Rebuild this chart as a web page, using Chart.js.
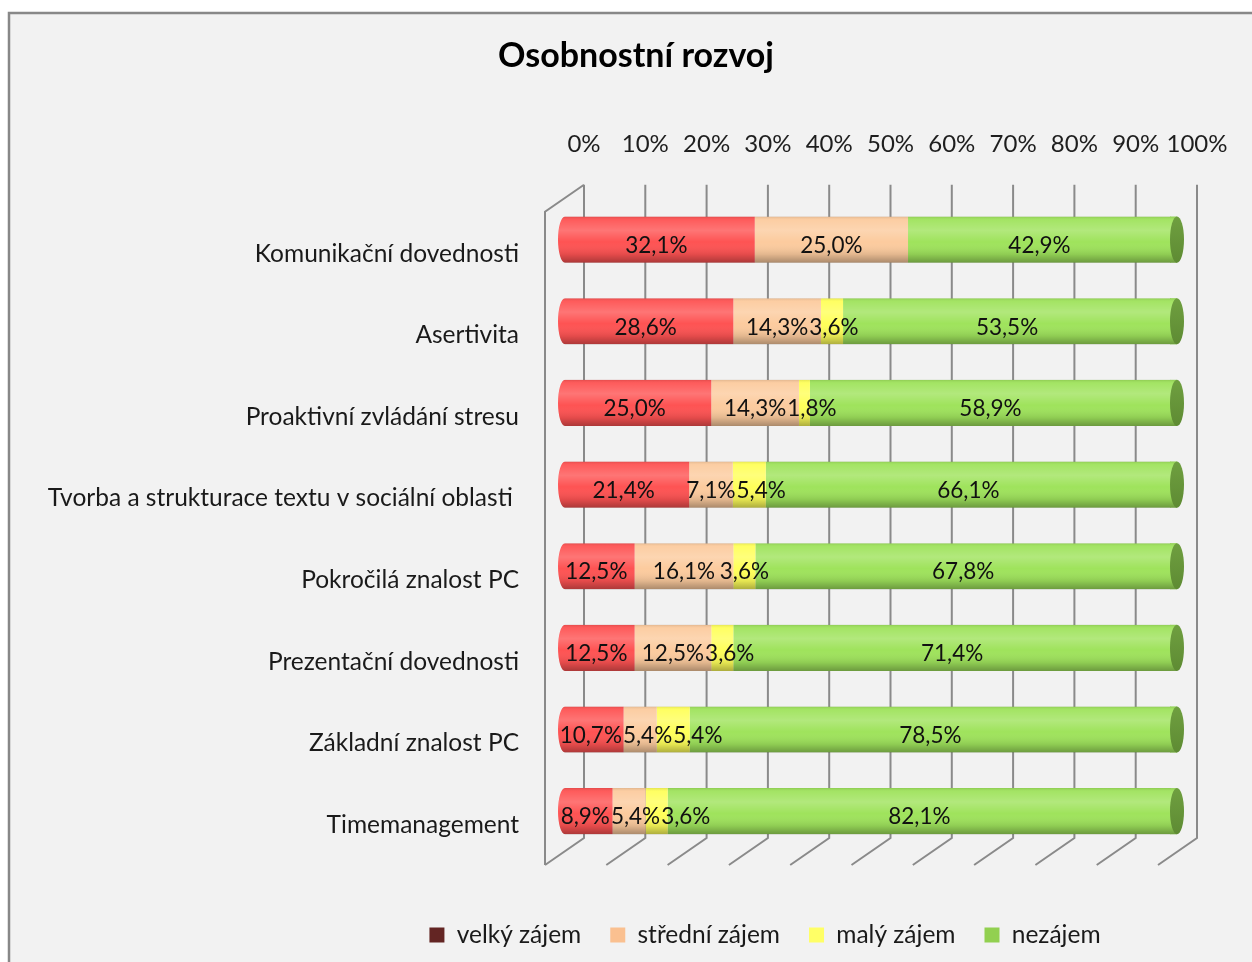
<!DOCTYPE html>
<html><head><meta charset="utf-8">
<script src="https://cdn.jsdelivr.net/npm/chart.js@4.4.1/dist/chart.umd.min.js"></script>
<style>html,body{margin:0;padding:0;background:#fff;}#wrap{width:1252px;height:962px;}</style>
</head><body><div id="wrap"><canvas id="c" width="1252" height="962"></canvas></div>
<script>
const categories = ["Komunikační dovednosti","Asertivita","Proaktivní zvládání stresu","Tvorba a strukturace textu v sociální oblasti ","Pokročilá znalost PC","Prezentační dovednosti","Základní znalost PC","Timemanagement"];
const seriesNames = ["velký zájem","střední zájem","malý zájem","nezájem"];
const velkyZajem   = [32.1, 28.6, 25.0, 21.4, 12.5, 12.5, 10.7, 8.9];
const stredniZajem = [25.0, 14.3, 14.3, 7.1, 16.1, 12.5, 5.4, 5.4];
const malyZajem    = [0, 3.6, 1.8, 5.4, 3.6, 3.6, 5.4, 3.6];
const nezajem      = [42.9, 53.5, 58.9, 66.1, 67.8, 71.4, 78.5, 82.1];
const tickValues   = [0,10,20,30,40,50,60,70,80,90,100];
const tickLabels   = ["0%","10%","20%","30%","40%","50%","60%","70%","80%","90%","100%"];
const barColors    = ['#fe5353','#fccb9e','#ffff5a','#9fe35c'];
const legendColors = ['#632523','#fac090','#ffff66','#92d050'];
const FONT = 'Lato';
const LEGEND_FS = 24.5, LEGEND_PAD = 29;

const BACK = {dx: 26, dy: -14}, FRONT = {dx: -13, dy: 13};

const bgPlugin = {
  id: 'bg',
  beforeDraw(chart) {
    const ctx = chart.ctx;
    ctx.save();
    ctx.fillStyle = '#ffffff';
    ctx.fillRect(0, 0, chart.width, chart.height);
    ctx.fillStyle = '#f2f2f2';
    ctx.fillRect(9, 13, chart.width - 9, chart.height - 13);
    ctx.strokeStyle = '#888888';
    ctx.lineWidth = 2.5;
    ctx.beginPath();
    ctx.moveTo(9, chart.height);
    ctx.lineTo(9, 13);
    ctx.lineTo(chart.width, 13);
    ctx.stroke();
    ctx.restore();
  }
};

const shiftPlugin = {
  id: 'shift',
  afterLayout(chart) {
    const t = chart.titleBlock;
    if (t) { const w = t.right - t.left; t.left = 636 - w / 2; t.right = t.left + w; }
    const l = chart.legend;
    if (l) {
      const w = l.right - l.left; l.left = 765 - w / 2; l.right = l.left + w;
      const h = l.bottom - l.top; l.top = 935 - LEGEND_PAD - LEGEND_FS / 2; l.bottom = l.top + h;
    }
  }
};

function silhouette(ctx, L, R, T, B) {
  const rx = 7, cy = (T + B) / 2, ry = (B - T) / 2;
  ctx.moveTo(L + rx, T);
  ctx.lineTo(R + 6, T);
  ctx.lineTo(R + 6, B);
  ctx.lineTo(L + rx, B);
  ctx.ellipse(L + rx, cy, rx, ry, 0, Math.PI / 2, Math.PI * 1.5);
  ctx.closePath();
}

const cylPlugin = {
  id: 'cyl',
  beforeDatasetsDraw(chart) {
    const ctx = chart.ctx, xs = chart.scales.x, a = chart.chartArea;
    ctx.save();
    ctx.strokeStyle = '#8a8a8a';
    ctx.lineWidth = 2;
    ctx.beginPath();
    tickValues.forEach(v => {
      const px = xs.getPixelForValue(v);
      ctx.moveTo(px + BACK.dx, a.top + BACK.dy);
      ctx.lineTo(px + BACK.dx, a.bottom + BACK.dy);
      ctx.lineTo(px + FRONT.dx, a.bottom + FRONT.dy);
    });
    const p0 = xs.getPixelForValue(0);
    ctx.moveTo(p0 + FRONT.dx, a.bottom + FRONT.dy);
    ctx.lineTo(p0 + FRONT.dx, a.top + FRONT.dy);
    ctx.lineTo(p0 + BACK.dx, a.top + BACK.dy);
    ctx.stroke();
    ctx.restore();
    const meta = chart.getDatasetMeta(0);
    const L = xs.getPixelForValue(0), R = xs.getPixelForValue(100);
    ctx.save();
    ctx.beginPath();
    meta.data.forEach(el => { silhouette(ctx, L, R, el.y - el.height / 2, el.y + el.height / 2); });
    ctx.clip();
  },
  afterDatasetsDraw(chart) {
    const ctx = chart.ctx, xs = chart.scales.x;
    ctx.restore();
    const meta = chart.getDatasetMeta(0);
    const L = xs.getPixelForValue(0), R = xs.getPixelForValue(100);
    const lastColor = chart.data.datasets[chart.data.datasets.length - 1].backgroundColor;
    meta.data.forEach(el => {
      const T = el.y - el.height / 2, B = el.y + el.height / 2, h = el.height;
      ctx.save();
      ctx.fillStyle = lastColor;
      ctx.fillRect(R - 1, T, 7, h);
      const g = ctx.createLinearGradient(0, T, 0, B);
      g.addColorStop(0, 'rgba(0,0,0,0.10)');
      g.addColorStop(0.07, 'rgba(255,255,255,0.05)');
      g.addColorStop(0.3, 'rgba(255,255,255,0.20)');
      g.addColorStop(0.55, 'rgba(255,255,255,0.0)');
      g.addColorStop(0.82, 'rgba(0,0,0,0.10)');
      g.addColorStop(1, 'rgba(0,0,0,0.32)');
      ctx.beginPath();
      silhouette(ctx, L, R, T, B);
      ctx.fillStyle = g;
      ctx.fill();
      const cg = ctx.createLinearGradient(0, T, 0, B);
      cg.addColorStop(0, '#6f9f40');
      cg.addColorStop(1, '#5e8b33');
      ctx.beginPath();
      ctx.ellipse(R + 6, el.y, 7, h / 2, 0, 0, Math.PI * 2);
      ctx.fillStyle = cg;
      ctx.fill();
      ctx.restore();
    });
    // value labels, centred in segments, nudged right to avoid overlapping the previous label
    ctx.save();
    ctx.font = '22.5px ' + FONT;
    ctx.fillStyle = '#111111';
    ctx.textAlign = 'left';
    ctx.textBaseline = 'middle';
    const n = chart.data.labels.length;
    for (let i = 0; i < n; i++) {
      let prevEnd = -Infinity;
      chart.data.datasets.forEach((ds, d) => {
        const v = ds.data[i];
        if (!v) return;
        const el = chart.getDatasetMeta(d).data[i];
        const txt = v.toFixed(1).replace('.', ',') + '%';
        const w = ctx.measureText(txt).width;
        let x0 = (el.x + el.base) / 2 - w / 2;
        if (x0 < prevEnd + 1) x0 = prevEnd + 1;
        ctx.fillText(txt, x0, el.y + 6);
        prevEnd = x0 + w;
      });
    }
    ctx.restore();
  }
};

const seriesData = [velkyZajem, stredniZajem, malyZajem, nezajem];

new Chart(document.getElementById('c'), {
  type: 'bar',
  data: {
    labels: categories,
    datasets: seriesNames.map((n, i) => ({
      label: n, data: seriesData[i], backgroundColor: barColors[i], borderWidth: 0,
      categoryPercentage: 1, barPercentage: 0.565
    }))
  },
  options: {
    indexAxis: 'y',
    responsive: false,
    devicePixelRatio: 1,
    animation: false,
    layout: { padding: { left: 0, right: 81, top: 0, bottom: 110 - (LEGEND_FS + LEGEND_PAD + 10) } },
    scales: {
      x: {
        type: 'linear', position: 'top', stacked: true, min: 0, max: 100,
        afterBuildTicks(s) { s.ticks = tickValues.map(v => ({ value: v })); },
        afterFit(s) { s.height = 112; },
        ticks: {
          callback: (v, i) => tickLabels[i], labelOffset: 26, padding: 40,
          font: { family: FONT, size: 24 }, color: '#1e1e1e', maxRotation: 0, autoSkip: false
        },
        grid: { display: false, drawTicks: false }, border: { display: false }
      },
      y: {
        stacked: true,
        afterFit(s) { s.width = 558; },
        ticks: { padding: 39, labelOffset: 14, font: { family: FONT, size: 24.5 }, color: '#1a1a1a', autoSkip: false },
        grid: { display: false, drawTicks: false }, border: { display: false }
      }
    },
    plugins: {
      title: {
        display: true, text: 'Osobnostní rozvoj', color: '#000000',
        font: { family: FONT, size: 34, weight: 'bold' }, padding: { top: 36, bottom: 10 }
      },
      legend: {
        position: 'bottom',
        labels: {
          font: { family: FONT, size: LEGEND_FS }, color: '#1a1a1a', boxWidth: 15, boxHeight: 15, padding: LEGEND_PAD,
          generateLabels(chart) {
            return chart.data.datasets.map((ds, i) => ({
              text: ds.label, fillStyle: legendColors[i], strokeStyle: legendColors[i], lineWidth: 0,
              hidden: false, datasetIndex: i, fontColor: '#1a1a1a'
            }));
          }
        }
      },
      tooltip: { enabled: false }
    }
  },
  plugins: [bgPlugin, shiftPlugin, cylPlugin]
});
</script></body></html>
